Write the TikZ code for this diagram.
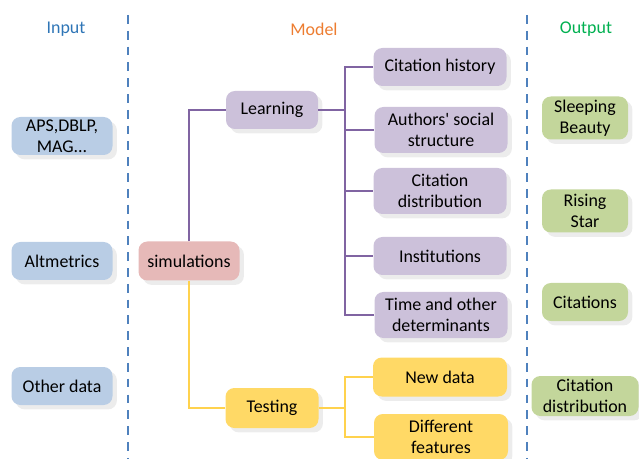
\documentclass[tikz,border=0pt]{standalone}
\usepackage{fontspec}
\setmainfont{Carlito}
\usepackage{tikz}
\usetikzlibrary{positioning}
\usetikzlibrary{shadows}

\definecolor{inblue}{HTML}{B9CDE5}
\definecolor{simred}{HTML}{E6B9B8}
\definecolor{modpurple}{HTML}{CCC1DA}
\definecolor{testyellow}{HTML}{FFD966}
\definecolor{outgreen}{HTML}{C3D69B}
\definecolor{linepurple}{HTML}{8064A2}
\definecolor{lineyellow}{HTML}{FFD24D}
\definecolor{dashblue}{HTML}{4F81BD}
\definecolor{headblue}{HTML}{2E75B6}
\definecolor{headorange}{HTML}{ED7D31}
\definecolor{headgreen}{HTML}{00B050}

\tikzset{
    box/.style={rounded corners=5pt, align=center, inner sep=1pt, font=\fontsize{10.2}{12}\selectfont,
                drop shadow={opacity=0.15, shadow xshift=2.5pt, shadow yshift=-2.5pt}},
    inbox/.style={box, fill=inblue, minimum width=101*0.02cm, minimum height=38*0.02cm},
    simbox/.style={box, fill=simred, minimum width=101*0.02cm, minimum height=39*0.02cm},
    learnbox/.style={box, fill=modpurple, minimum width=92*0.02cm, minimum height=38*0.02cm},
    factbox/.style={box, fill=modpurple, minimum width=133*0.02cm, minimum height=38*0.02cm},
    testbox/.style={box, fill=testyellow, minimum width=93*0.02cm, minimum height=40*0.02cm},
    databox/.style={box, fill=testyellow, minimum width=134*0.02cm, minimum height=39*0.02cm},
    outbox/.style={box, fill=outgreen, minimum width=86*0.02cm, minimum height=38*0.02cm},
    purpleline/.style={draw=linepurple, line width=1pt},
    yellowline/.style={draw=lineyellow, line width=1pt},
    sepline/.style={draw=dashblue, line width=1pt, dash pattern=on 5pt off 4pt},
    head/.style={font=\fontsize{10.2}{12}\selectfont}
}

\begin{document}
\begin{tikzpicture}[x=0.02cm, y=-0.02cm]
    \useasboundingbox (0,0) rectangle (639,459);

    % headings and separators
    \node[head, text=headblue] (hin) at (66,29) {Input};
    \node[head, text=headorange] (hmod) at (314,29) {Model};
    \node[head, text=headgreen] (hout) at (586,29) {Output};
    \draw[sepline] (128,15) -- (128,459);
    \draw[sepline] (527,15) -- (527,459);

    % input
    \node[inbox] (aps) at (62,136) {APS,DBLP,\\MAG...};
    \node[inbox] (alt) at (62,261) {Altmetrics};
    \node[inbox] (oth) at (62,386) {Other data};

    % model
    \node[simbox] (sim) at (189,261) {simulations};
    \node[learnbox] (learn) at (272,110) {Learning};
    \node[testbox] (test) at (272,408) {Testing};

    \node[factbox] (hist) at (440,67) {Citation history};
    \node[factbox, minimum height=46*0.02cm] (auth) at (441,130) {Authors\textquotesingle{} social\\structure};
    \node[factbox, minimum height=46*0.02cm] (dist) at (440,191) {Citation\\distribution};
    \node[factbox] (inst) at (440,256) {Institutions};
    \node[factbox, minimum height=46*0.02cm] (time) at (441,315) {Time and other\\determinants};

    \node[databox] (new) at (440,377) {New data};
    \node[databox, minimum height=46*0.02cm] (diff) at (441,437) {Different\\features};

    % output
    \node[outbox, minimum height=43*0.02cm] (sleep) at (585,118) {Sleeping\\Beauty};
    \node[outbox, minimum height=43*0.02cm] (rise) at (585,211) {Rising\\Star};
    \node[outbox] (cit) at (585,302) {Citations};
    \node[outbox, minimum width=107*0.02cm, minimum height=40*0.02cm] (cdist) at (585,396) {Citation\\distribution};

    % connectors
    \coordinate (lbus) at (345,110);
    \coordinate (tbus) at (345,408);
    \draw[purpleline] (sim.north) |- (learn.west);
    \foreach \n in {hist,auth,dist,inst,time}
        \draw[purpleline] (learn.east) -- (lbus) |- (\n.west);
    \draw[yellowline] (sim.south) |- (test.west);
    \foreach \n in {new,diff}
        \draw[yellowline] (test.east) -- (tbus) |- (\n.west);
\end{tikzpicture}
\end{document}
